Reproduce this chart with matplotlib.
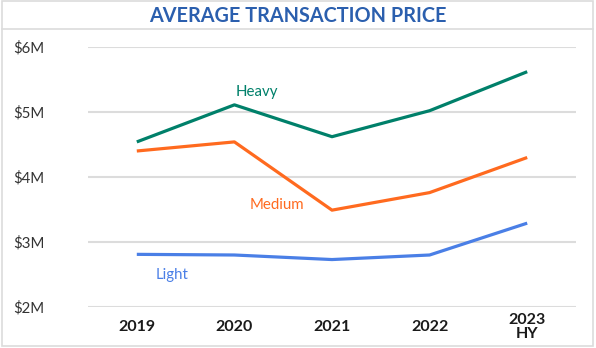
import matplotlib.pyplot as plt
from matplotlib.patches import Rectangle
from matplotlib.lines import Line2D

years = ["2019", "2020", "2021", "2022", "2023\nHY"]
heavy = [4.54, 5.11, 4.62, 5.02, 5.62]
medium = [4.40, 4.54, 3.49, 3.76, 4.30]
light = [2.81, 2.80, 2.73, 2.80, 3.29]
yticks = [2, 3, 4, 5, 6]
ylabels = ["$2M", "$3M", "$4M", "$5M", "$6M"]

c_heavy = "#00806A"
c_medium = "#FF6A1F"
c_light = "#4A7FE6"
grid_c = "#DCDCDC"

plt.rcParams['font.family'] = ['Lato', 'DejaVu Sans']

fig = plt.figure(figsize=(5.96, 3.48), dpi=100)
W, H = 596, 348

# outer box and title divider
fig.add_artist(Rectangle((1.5 / W, 2 / H), 591.5 / W, 345 / H, transform=fig.transFigure,
                         fill=False, edgecolor=grid_c, linewidth=1.2))
fig.add_artist(Line2D([1.5 / W, 593 / W], [(H - 29) / H] * 2, transform=fig.transFigure,
                      color=grid_c, linewidth=1.2))
fig.text(298 / W, (H - 16) / H, "AVERAGE TRANSACTION PRICE", ha="center", va="center",
         fontsize=14.3, fontweight="bold", color="#2B5FAE")

ax = fig.add_axes([88 / W, 41 / H, 488 / W, 260 / H])
x = range(len(years))
ax.plot(x, heavy, color=c_heavy, lw=2.3, solid_capstyle="butt", zorder=3)
ax.plot(x, medium, color=c_medium, lw=2.3, solid_capstyle="butt", zorder=3)
ax.plot(x, light, color=c_light, lw=2.3, solid_capstyle="butt", zorder=3)

ax.text(1.23, 5.31, "Heavy", color=c_heavy, fontsize=10.8, ha="center", va="center")
ax.text(1.44, 3.57, "Medium", color=c_medium, fontsize=10.8, ha="center", va="center")
ax.text(0.36, 2.49, "Light", color=c_light, fontsize=10.8, ha="center", va="center")

ax.set_xlim(-0.5, 4.5)
ax.set_ylim(2, 6)
ax.set_yticks(yticks)
ax.set_yticklabels(ylabels)
ax.set_xticks(list(x))
ax.set_xticklabels(years, fontweight="bold", linespacing=0.95, fontsize=11.5)
ax.grid(axis="y", color=grid_c, lw=1.5)
ax.set_axisbelow(True)
for s in ax.spines.values():
    s.set_visible(False)
ax.tick_params(axis="both", length=0)
ax.tick_params(axis="y", labelsize=10.8, pad=54, labelcolor="#333333")
ax.tick_params(axis="x", pad=14.5, labelcolor="#1A1A1A")
for t in ax.get_yticklabels():
    t.set_horizontalalignment("left")
for t in ax.get_xticklabels():
    t.set_verticalalignment("center")

fig.savefig("out.png", dpi=100)
